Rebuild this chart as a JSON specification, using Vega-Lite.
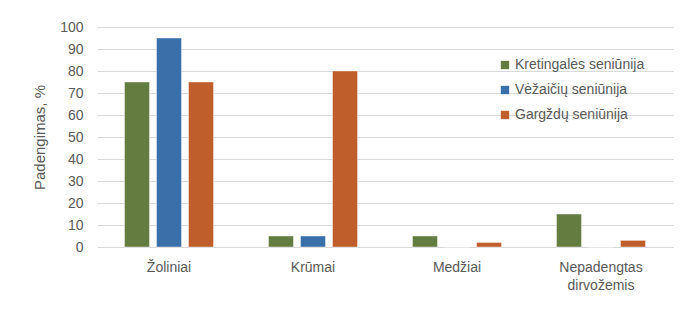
{
  "$schema": "https://vega.github.io/schema/vega-lite/v6.json",
  "width": 576,
  "height": 220,
  "autosize": "none",
  "padding": {"left": 97, "top": 27, "right": 27, "bottom": 67},
  "background": "white",
  "data": {
    "values": [
      {"kategorija": "Žoliniai", "seniunija": "Kretingalės seniūnija", "padengimas": 75},
      {"kategorija": "Žoliniai", "seniunija": "Vėžaičių seniūnija", "padengimas": 95},
      {"kategorija": "Žoliniai", "seniunija": "Gargždų seniūnija", "padengimas": 75},
      {"kategorija": "Krūmai", "seniunija": "Kretingalės seniūnija", "padengimas": 5},
      {"kategorija": "Krūmai", "seniunija": "Vėžaičių seniūnija", "padengimas": 5},
      {"kategorija": "Krūmai", "seniunija": "Gargždų seniūnija", "padengimas": 80},
      {"kategorija": "Medžiai", "seniunija": "Kretingalės seniūnija", "padengimas": 5},
      {"kategorija": "Medžiai", "seniunija": "Vėžaičių seniūnija", "padengimas": 0},
      {"kategorija": "Medžiai", "seniunija": "Gargždų seniūnija", "padengimas": 2},
      {"kategorija": "Nepadengtas dirvožemis", "seniunija": "Kretingalės seniūnija", "padengimas": 15},
      {"kategorija": "Nepadengtas dirvožemis", "seniunija": "Vėžaičių seniūnija", "padengimas": 0},
      {"kategorija": "Nepadengtas dirvožemis", "seniunija": "Gargždų seniūnija", "padengimas": 3}
    ]
  },
  "mark": {"type": "bar", "stroke": "#ffffff", "strokeOpacity": 0.5, "strokeWidth": 0.8},
  "encoding": {
    "x": {
      "field": "kategorija",
      "type": "nominal",
      "sort": ["Žoliniai", "Krūmai", "Medžiai", "Nepadengtas dirvožemis"],
      "scale": {"paddingInner": 0.382, "paddingOuter": 0.191},
      "axis": {
        "title": null,
        "labelAngle": 0,
        "ticks": false,
        "domain": false,
        "labelPadding": 13,
        "labelFont": "Liberation Sans",
        "labelFontSize": 14,
        "labelColor": "#595959",
        "labelExpr": "datum.value == 'Nepadengtas dirvožemis' ? ['Nepadengtas', 'dirvožemis'] : datum.value",
        "labelLineHeight": 18
      }
    },
    "xOffset": {
      "field": "seniunija",
      "type": "nominal",
      "sort": ["Kretingalės seniūnija", "Vėžaičių seniūnija", "Gargždų seniūnija"],
      "scale": {"paddingInner": 0.22, "paddingOuter": 0}
    },
    "y": {
      "field": "padengimas",
      "type": "quantitative",
      "scale": {"domain": [0, 100], "nice": false},
      "axis": {
        "title": "Padengimas, %",
        "titleFont": "Liberation Sans",
        "titleFontSize": 15,
        "titleFontWeight": "normal",
        "titleColor": "#595959",
        "titlePadding": 12,
        "values": [0, 10, 20, 30, 40, 50, 60, 70, 80, 90, 100],
        "ticks": false,
        "domain": false,
        "labelPadding": 14,
        "labelFont": "Liberation Sans",
        "labelFontSize": 14,
        "labelColor": "#595959",
        "gridColor": "#d9d9d9",
        "gridWidth": 1
      }
    },
    "color": {
      "field": "seniunija",
      "type": "nominal",
      "sort": ["Kretingalės seniūnija", "Vėžaičių seniūnija", "Gargždų seniūnija"],
      "scale": {
        "domain": ["Kretingalės seniūnija", "Vėžaičių seniūnija", "Gargždų seniūnija"],
        "range": ["#647c40", "#3a70aa", "#bf5e2b"]
      },
      "legend": {
        "title": null,
        "orient": "none",
        "legendX": 401,
        "legendY": 31,
        "symbolType": "square",
        "symbolSize": 70,
        "symbolStrokeWidth": 0,
        "labelFont": "Liberation Sans",
        "labelFontSize": 14,
        "labelColor": "#595959",
        "labelOffset": 3,
        "rowPadding": 11
      }
    }
  },
  "config": {"view": {"stroke": null}}
}
